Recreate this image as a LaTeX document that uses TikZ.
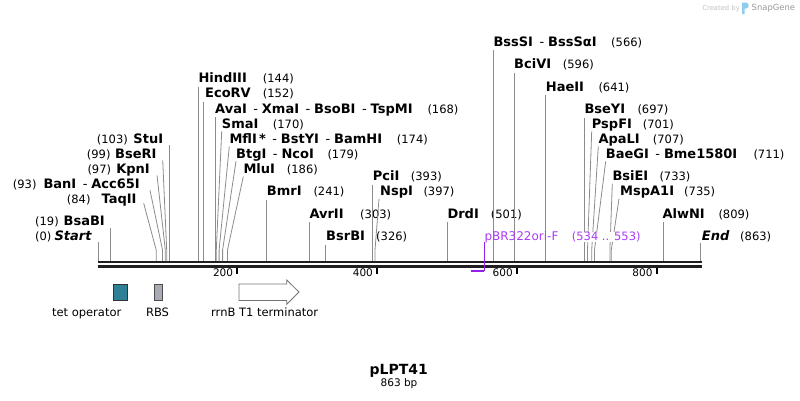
\documentclass[tikz,border=0pt]{standalone}
\usepackage{fontspec}
\setmainfont{DejaVu Sans}
\usepackage{xcolor}
\usetikzlibrary{calc,positioning}

\definecolor{primercol}{RGB}{150,30,235}
\definecolor{primertext}{RGB}{170,60,245}
\definecolor{tetcol}{RGB}{46,128,150}
\definecolor{rbscol}{RGB}{168,170,180}
\definecolor{sglogo}{RGB}{140,205,240}
\newcommand{\enzsep}{\hspace{0.5em}{\mdseries -}\hspace{0.3em}}

\tikzset{
  enz/.style={font=\fontsize{13}{15}\selectfont\bfseries, inner sep=0pt},
  bpnum/.style={font=\fontsize{11.5}{13}\selectfont, inner sep=0pt, anchor=base west},
  site/.style={draw=black!45, line width=0.8pt},
  feat/.style={font=\fontsize{11.5}{13}\selectfont, inner sep=0pt, anchor=base},
}

\begin{document}
\begin{tikzpicture}[x=1pt, y=-1pt]
\useasboundingbox (0,0) rectangle (800,400);

% watermark
\node[anchor=base east, inner sep=0pt, font=\fontsize{6.8}{8}\selectfont, text=black!25] (made) at (740,10) {Created by};
\fill[sglogo] (742,2.5) -- (746,2.5) .. controls (749.5,2.5) and (749.5,8.5) .. (746,8.5) -- (744.6,8.5) -- (744.6,14) -- (742,14) -- cycle;
\node[anchor=base west, inner sep=0pt, font=\fontsize{8.4}{10}\selectfont, text=black!40] (sg) at (751.5,10.7) {SnapGene};

% backbone and ruler
\draw[line width=2.4pt, black!88] (97.5,262.2) -- (701.7,262.2);
\draw[line width=2.4pt, black!88] (97.5,266.5) -- (701.7,266.5);
\foreach \t/\x in {200/237.3, 400/377.1, 600/516.9, 800/656.7}{
    \draw[line width=1.8pt](\x,267.5)--(\x,273.5);
    \node[inner sep=0pt, anchor=base east, font=\fontsize{10.5}{12}\selectfont] (tick\t) at (\x-4,276.7) {\t};}

% cut sites on the backbone
\foreach \p/\x in {0/98,19/110.8,84/156.2,93/162.5,97/165.3,99/166.7,103/169.5,
    144/198.2,152/203.7,168/214.9,170/216.3,174/219.1,179/222.6,186/227.5,
    241/266,303/309.3,326/325.4,393/372.2,397/375,501/447.7,566/493.1,
    596/514.1,641/545.6,697/584.7,701/587.5,707/591.7,711/594.5,733/609.9,
    735/611.3,809/663,863/700.7}{
    \coordinate (s\p) at (\x,261);
    \coordinate (k\p) at (\x,250);}

% left hand labels
\node[enz, anchor=base east] (start) at (91.7,240.7) {\itshape Start};
\node[bpnum] (startp) at (35,240.7) {(0)};
\draw[site] ($(s0 |- start.base)+(0,1)$) -- (s0);
\node[enz, anchor=base east] (bsab) at (105,225.7) {BsaBI};
\node[bpnum] (bsabp) at (35,225.7) {(19)};
\draw[site] ($(s19 |- bsab.base)+(0,2)$) -- (s19);
\node[enz, anchor=base east] (taq) at (136.7,203.3) {TaqII};
\node[bpnum] (taqp) at (66.7,203.3) {(84)};
\draw[site] ($(taq.base east)+(7,0)$) -- (k84) -- (s84);
\node[enz, anchor=base east] (ban) at (140,188.3) {BanI\enzsep Acc65I};
\node[bpnum] (banp) at (12.7,188.3) {(93)};
\draw[site] ($(ban.base east)+(10,2)$) -- (k93) -- (s93);
\node[enz, anchor=base east] (kpn) at (150,173.3) {KpnI};
\node[bpnum] (kpnp) at (87.3,173.3) {(97)};
\draw[site] ($(kpn.base east)+(7,2)$) -- (k97) -- (s97);
\node[enz, anchor=base east] (bser) at (156.7,158.3) {BseRI};
\node[bpnum] (bserp) at (86.7,158.3) {(99)};
\draw[site] ($(bser.base east)+(6,2)$) -- (k99) -- (s99);
\node[enz, anchor=base east] (stu) at (163.3,143.3) {StuI};
\node[bpnum] (stup) at (96.7,143.3) {(103)};
\draw[site] ($(s103 |- stu.base)+(0,2)$) -- (s103);

% right hand labels
\node[enz, anchor=base west] (hind) at (198.3,82.7) {HindIII};
\node[bpnum] (hindp) at (262.7,82.7) {(144)};
\draw[site] ($(s144 |- hind.base)+(0,4)$) -- (s144);
\node[enz, anchor=base west] (ecorv) at (205,97.7) {EcoRV};
\node[bpnum] (ecorvp) at (262.7,97.7) {(152)};
\draw[site] ($(s152 |- ecorv.base)+(0,4)$) -- (s152);
\node[enz, anchor=base west] (ava) at (215,113) {AvaI\enzsep XmaI\enzsep BsoBI\enzsep TspMI};
\node[bpnum] (avap) at (427.3,113) {(168)};
\draw[site] ($(s168 |- ava.base)+(0,4)$) -- (s168);
\node[enz, anchor=base west] (sma) at (221.7,128.3) {SmaI};
\node[bpnum] (smap) at (272.7,128.3) {(170)};
\draw[site] ($(sma.base west)+(0,3)$) -- (k170) -- (s170);
\node[enz, anchor=base west] (mfl) at (229.3,143.3) {MflI\,*\enzsep BstYI\enzsep BamHI};
\node[bpnum] (mflp) at (396.7,143.3) {(174)};
\draw[site] ($(mfl.base west)+(0,3)$) -- (k174) -- (s174);
\node[enz, anchor=base west] (btg) at (236,158.3) {BtgI\enzsep NcoI};
\node[bpnum] (btgp) at (327.3,158.3) {(179)};
\draw[site] ($(btg.base west)+(0,3)$) -- (k179) -- (s179);
\node[enz, anchor=base west] (mlu) at (243.3,173.5) {MluI};
\node[bpnum] (mlup) at (286.7,173.5) {(186)};
\draw[site] ($(mlu.base west)+(0,3)$) -- (k186) -- (s186);
\node[enz, anchor=base west] (bmr) at (266.7,195.7) {BmrI};
\node[bpnum] (bmrp) at (313.3,195.7) {(241)};
\draw[site] ($(s241 |- bmr.base)+(0,4)$) -- (s241);
\node[enz, anchor=base west] (avr) at (309.3,218.3) {AvrII};
\node[bpnum] (avrp) at (360,218.3) {(303)};
\draw[site] ($(s303 |- avr.base)+(0,4)$) -- (s303);
\node[enz, anchor=base west] (bsrb) at (326,240.7) {BsrBI};
\node[bpnum] (bsrbp) at (376,240.7) {(326)};
\draw[site] ($(s326 |- bsrb.base)+(0,4)$) -- (s326);
\node[enz, anchor=base west] (pci) at (372.7,180.7) {PciI};
\node[bpnum] (pcip) at (410.7,180.7) {(393)};
\draw[site] ($(s393 |- pci.base)+(0,4)$) -- (s393);
\node[enz, anchor=base west] (nsp) at (380,195.7) {NspI};
\node[bpnum] (nspp) at (423.3,195.7) {(397)};
\draw[site] ($(nsp.base west)+(-1,3)$) -- (k397) -- (s397);
\node[enz, anchor=base west] (drd) at (447.3,218.3) {DrdI};
\node[bpnum] (drdp) at (490.7,218.3) {(501)};
\draw[site] ($(s501 |- drd.base)+(0,4)$) -- (s501);
\node[enz, anchor=base west] (bsss) at (493.3,46) {BssSI\enzsep BssSαI};
\node[bpnum] (bsssp) at (611,46) {(566)};
\draw[site] ($(s566 |- bsss.base)+(0,4)$) -- (s566);
\node[enz, anchor=base west] (bci) at (514,68.5) {BciVI};
\node[bpnum] (bcip) at (562.7,68.5) {(596)};
\draw[site] ($(s596 |- bci.base)+(0,4)$) -- (s596);
\node[enz, anchor=base west] (hae) at (545.7,91) {HaeII};
\node[bpnum] (haep) at (598.3,91) {(641)};
\draw[site] ($(s641 |- hae.base)+(0,4)$) -- (s641);
\node[enz, anchor=base west] (bsey) at (584.3,113.5) {BseYI};
\node[bpnum] (bseyp) at (637.3,113.5) {(697)};
\draw[site] ($(s697 |- bsey.base)+(0,4)$) -- (s697);
\node[enz, anchor=base west] (psp) at (591.7,128.3) {PspFI};
\node[bpnum] (pspp) at (642.7,128.3) {(701)};
\draw[site] ($(psp.base west)+(0,3)$) -- (k701) -- (s701);
\node[enz, anchor=base west] (apa) at (598.3,143.3) {ApaLI};
\node[bpnum] (apap) at (652.7,143.3) {(707)};
\draw[site] ($(apa.base west)+(0,3)$) -- (k707) -- (s707);
\node[enz, anchor=base west] (bae) at (605.7,158.3) {BaeGI\enzsep Bme1580I};
\node[bpnum] (baep) at (753.3,158.3) {(711)};
\draw[site] ($(bae.base west)+(0,3)$) -- (k711) -- (s711);
\node[enz, anchor=base west] (bsie) at (612.3,180.7) {BsiEI};
\node[bpnum] (bsiep) at (659.3,180.7) {(733)};
\draw[site] ($(bsie.base west)+(0,3)$) -- (k733) -- (s733);
\node[enz, anchor=base west] (msp) at (620,195.7) {MspA1I};
\node[bpnum] (mspp) at (684,195.7) {(735)};
\draw[site] ($(msp.base west)+(-1,3)$) -- (k735) -- (s735);
\node[enz, anchor=base west] (alw) at (662.3,218.3) {AlwNI};
\node[bpnum] (alwp) at (718.3,218.3) {(809)};
\draw[site] ($(s809 |- alw.base)+(0,4)$) -- (s809);
\node[enz, anchor=base west] (endl) at (701.7,240.7) {\itshape End};
\node[bpnum] (endp) at (740,240.7) {(863)};
\draw[site] ($(s863 |- endl.base)+(0,2)$) -- (s863);

% primer
\node[inner sep=0pt, anchor=base west, font=\fontsize{12}{14}\selectfont, text=primertext] (orif) at (484.3,240.7) {pBR322ori-F};
\node[bpnum, text=primertext, fill=white] (orifp) at (571.7,240.7) {(534 .. 553)};
\coordinate (p534) at (470.8,270.7);
\coordinate (p553) at (484.3,270.7);
\draw[primercol, line width=1.6pt] (p534) -- (p553);
\draw[primercol, line width=1pt] (p553) -- ($(p553 |- orif.base)+(0,1)$);

% features
\node[draw=black!80, fill=tetcol, line width=0.8pt, minimum width=14.4pt, minimum height=16pt, inner sep=0pt] (tetop) at (120.5,292) {};
\node[feat] (tetlab) at (86.7,316.5) {tet operator};
\node[draw=black!70, fill=rbscol, line width=0.8pt, minimum width=8pt, minimum height=16pt, inner sep=0pt] (rbs) at (158.3,292) {};
\node[feat] (rbslab) at (157.5,316.5) {RBS};
\draw[black!55, fill=white, line width=0.8pt] (239,284) -- (286.7,284) -- (286.7,280) -- (299,292) -- (286.7,304.3) -- (286.7,300.5) -- (239,300.5) -- cycle;
\node[feat] (termlab) at (264.7,316.5) {rrnB T1 terminator};

% name and size
\node[inner sep=0pt, anchor=base, font=\fontsize{14}{16}\selectfont\bfseries] (title) at (398.7,374) {pLPT41};
\node[inner sep=0pt, anchor=base, font=\fontsize{10.5}{12}\selectfont] (size) at (399,386) {863 bp};
\end{tikzpicture}
\end{document}
